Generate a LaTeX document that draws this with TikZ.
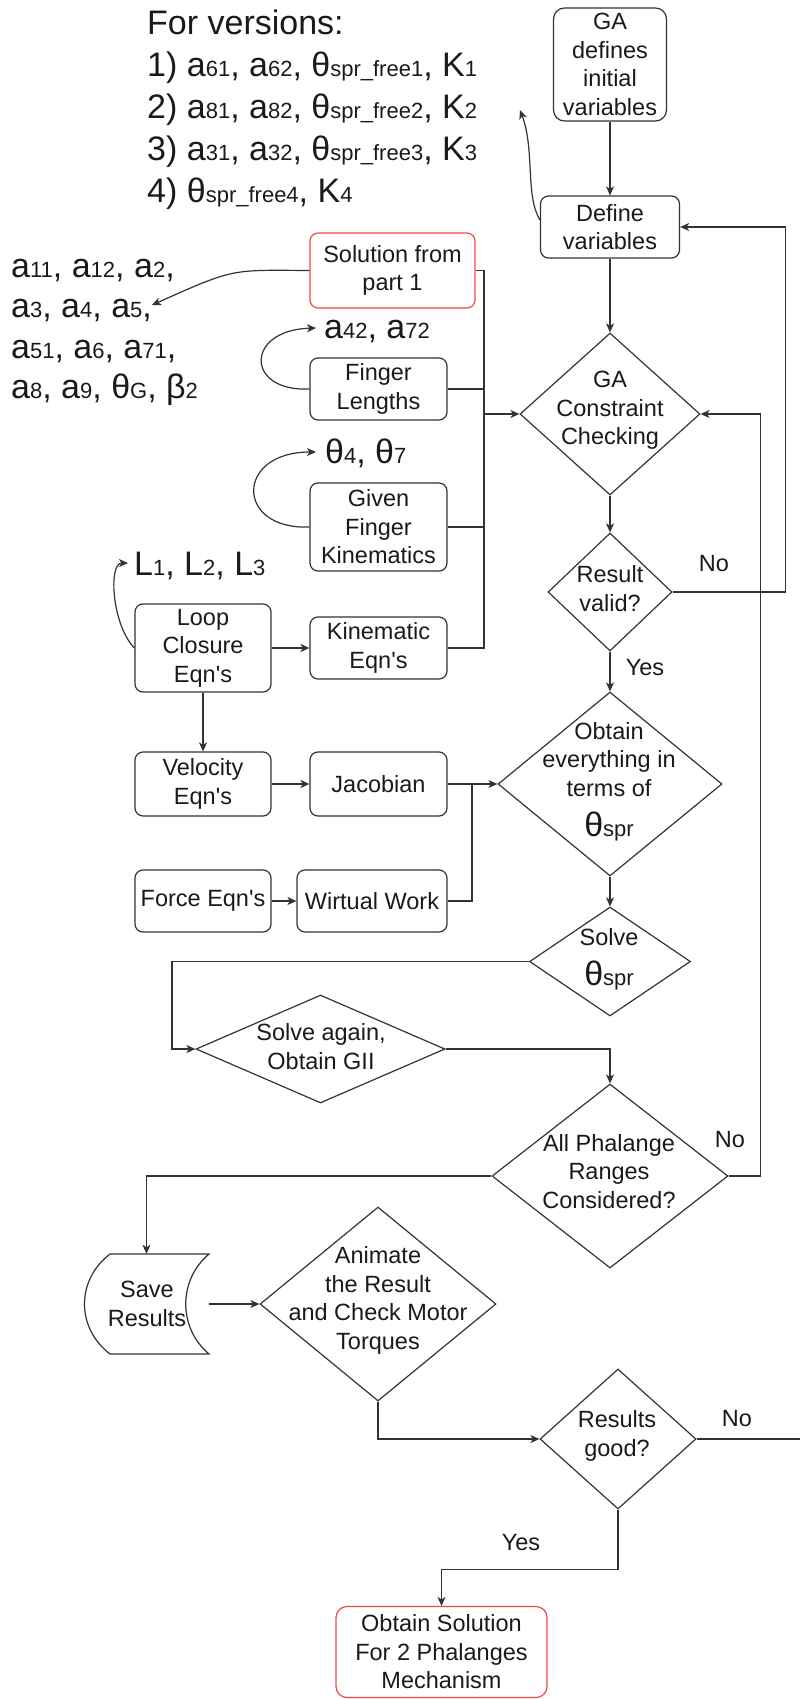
\documentclass[tikz,border=0pt]{standalone}
\usepackage{fontspec}
\setmainfont[Ligatures=TeXOff]{Liberation Sans}
\usetikzlibrary{arrows.meta,shapes.geometric}
\definecolor{lc}{HTML}{333333}
\definecolor{tc}{HTML}{1A1A1A}
\definecolor{rc}{HTML}{F04848}
\newcommand\fnode{\fontsize{23.5}{28.5}\selectfont}
\newcommand\fbig{\fontsize{34}{40}\selectfont}
\newcommand\subt[1]{{\fontsize{22}{24}\selectfont #1}}
\begin{document}
\begin{tikzpicture}[x=1pt,y=-1pt,
  bx/.style={draw=lc,line width=1.2pt,rounded corners=8pt,inner sep=0pt,font=\fnode,align=center,text=tc},
  rbx/.style={bx,draw=rc},
  dia/.style={draw=lc,line width=1.2pt,diamond,inner sep=0pt},
  tx/.style={font=\fnode,align=center,text=tc,inner sep=0pt},
  lbl/.style={font=\fbig,text=tc,inner sep=0pt,anchor=base west},
  wire/.style={draw=lc,line width=1.2pt},
  arr/.style={wire,-{Stealth[length=9pt,width=8pt,inset=2.5pt]}},
]
\useasboundingbox (0,0) rectangle (800,1699);

% free labels
\node[lbl] (v0) at (147,35) {For versions:};
\node[lbl] (v1) at (147,77) {1) a\subt{61}, a\subt{62}, θ\subt{spr\_free1}, K\subt{1}};
\node[lbl] (v2) at (147,119) {2) a\subt{81}, a\subt{82}, θ\subt{spr\_free2}, K\subt{2}};
\node[lbl] (v3) at (147,161) {3) a\subt{31}, a\subt{32}, θ\subt{spr\_free3}, K\subt{3}};
\node[lbl] (v4) at (147,203) {4) θ\subt{spr\_free4}, K\subt{4}};

\node[lbl] (p1) at (11,277) {a\subt{11}, a\subt{12}, a\subt{2},};
\node[lbl] (p2) at (11,317) {a\subt{3}, a\subt{4}, a\subt{5},};
\node[lbl] (p3) at (11,358) {a\subt{51}, a\subt{6}, a\subt{71},};
\node[lbl] (p4) at (11,398) {a\subt{8}, a\subt{9}, θ\subt{G}, β\subt{2}};

\node[lbl] (l42) at (324,338) {a\subt{42}, a\subt{72}};
\node[lbl] (l47) at (325,463) {θ\subt{4}, θ\subt{7}};
\node[lbl] (lL) at (134,575) {L\subt{1}, L\subt{2}, L\subt{3}};

% boxes
\node[bx,minimum width=113pt,minimum height=113pt,rounded corners=11pt] (ga) at (610,64.5) {GA\\defines\\initial\\variables};
\node[bx,minimum width=139pt,minimum height=62pt] (def) at (610,227) {Define\\variables};
\node[rbx,minimum width=165pt,minimum height=75pt] (sol) at (392.5,270.5) {Solution from\\part 1};
\node[bx,minimum width=137pt,minimum height=62pt] (fl) at (378.5,389) {Finger\\Lengths};
\node[bx,minimum width=137pt,minimum height=88pt] (gfk) at (378.5,527) {Given\\Finger\\Kinematics};
\node[bx,minimum width=136pt,minimum height=88pt] (lce) at (203,648) {Loop\\Closure\\Eqn's};
\node[bx,minimum width=137pt,minimum height=62pt] (ke) at (378.5,648) {Kinematic\\Eqn's};
\node[bx,minimum width=136pt,minimum height=64pt] (ve) at (203,784) {Velocity\\Eqn's};
\node[bx,minimum width=137pt,minimum height=64pt] (jac) at (378.5,784) {Jacobian};
\node[bx,minimum width=136pt,minimum height=62pt] (fe) at (203,901) {Force Eqn's};
\node[bx,minimum width=150pt,minimum height=62pt] (ww) at (372,901) {Wirtual Work};
\node[rbx,minimum width=211pt,minimum height=91pt,rounded corners=11pt] (os) at (441.5,1652) {Obtain Solution\\For 2 Phalanges\\Mechanism};

% diamonds
\node[dia,minimum width=180pt,minimum height=162pt] (gcc) at (610,414) {};
\node[tx] (gccT) at (610,410.5) {GA\\Constraint\\Checking};
\node[dia,minimum width=124pt,minimum height=118pt] (rv) at (610,592) {};
\node[tx] (rvT) at (610,588.5) {Result\\valid?};
\node[dia,minimum width=224pt,minimum height=184pt] (oe) at (610,784) {};
\node[tx] (oeT) at (609,759.5) {Obtain\\everything in\\terms of};
\node[tx,anchor=base] (oeS) at (609,836) {\fbig θ\subt{spr}};
\node[dia,minimum width=161pt,minimum height=109pt] (sth) at (610,961.5) {};
\node[tx] (sthT) at (609,937) {Solve};
\node[tx,anchor=base] (sthS) at (609,985) {\fbig θ\subt{spr}};
\node[dia,minimum width=249pt,minimum height=108pt] (sa) at (320.5,1049) {};
\node[tx] (saT) at (321,1046.5) {Solve again,\\Obtain GII};
\node[dia,minimum width=236pt,minimum height=184pt] (apr) at (610,1176) {};
\node[tx] (aprT) at (609,1171.5) {All Phalange\\Ranges\\Considered?};
\node[dia,minimum width=236pt,minimum height=194pt] (anim) at (378,1304) {};
\node[tx] (animT) at (378,1300.5) {Animate\\the Result\\and Check Motor\\Torques};
\node[dia,minimum width=156pt,minimum height=140pt] (rg) at (618,1439) {};
\node[tx] (rgT) at (617,1436) {Results\\good?};

% save results (data storage shape)
\node[inner sep=0pt,minimum width=125pt,minimum height=100pt] (save) at (146.5,1304) {};
\draw[wire] (110,1254) -- (209,1254) .. controls (178,1280) and (178,1328) .. (209,1354)
  -- (110,1354) .. controls (76,1328) and (76,1280) .. (110,1254) -- cycle;
\node[tx] (saveT) at (147,1304) {Save\\Results};

% coordinates
\coordinate (tGA) at (520,110);
\coordinate (t5) at (152,305);
\coordinate (t42) at (316,328);
\coordinate (t47) at (316,452);
\coordinate (tL) at (128,563);
\coordinate (bus) at (484,414);
\coordinate (jn) at (472,784);
\coordinate (edge) at (800,1439);

% main column
\draw[arr] (ga.south) -- (def.north);
\draw[arr] ([yshift=7pt]def.west) .. controls (525,195) and (535,150) .. (tGA);
\draw[arr] (def.south) -- (gcc.north);
\draw[arr] (gcc.south) -- (rv.north);
\draw[arr] (rv.east) -- ++(113,0) |- (def.east);
\node[tx] (no1) at (714,564) {No};
\draw[arr] (rv.south) -- (oe.north);
\node[tx] (yes1) at (645,668) {Yes};
\draw[arr] (oe.south) -- (sth.north);
\draw[arr] (sth.west) -- ++(-357,0) |- (sa.west);
\draw[arr] (sa.east) -| (apr.north);
\draw[arr] (apr.east) -- ++(32,0) |- (gcc.east);
\node[tx] (no2) at (730,1140) {No};
\draw[arr] (apr.west) -| (save.north);
\draw[arr] (save.east) -- (anim.west);
\draw[arr] (anim.south) |- (rg.west);
\draw[wire,line width=1.8pt] (rg.east) -- (edge);
\node[tx] (no3) at (737,1419) {No};
\draw[arr] (rg.south) -- ++(0,60) -| (os.north);
\node[tx] (yes2) at (521,1543) {Yes};

% left side
\draw[wire] (sol.east) -| (bus |- ke.east) -- (ke.east);
\draw[wire] (fl.east) -- (fl.east -| bus);
\draw[wire] (gfk.east) -- (gfk.east -| bus);
\draw[arr] (bus) -- (gcc.west);
\draw[arr] (sol.west) .. controls (230,270) and (235,268) .. (t5);
\draw[arr] (fl.west) .. controls (245,392) and (245,330) .. (t42);
\draw[arr] (gfk.west) .. controls (235,530) and (235,452) .. (t47);
\draw[arr] (lce.west) .. controls (112,625) and (108,563) .. (tL);
\draw[arr] (lce.east) -- (ke.west);
\draw[arr] (lce.south) -- (ve.north);
\draw[arr] (ve.east) -- (jac.west);
\draw[arr] (jac.east) -- (oe.west);
\draw[wire] (ww.east) -| (jn);
\draw[arr] (fe.east) -- (ww.west);
\end{tikzpicture}
\end{document}
